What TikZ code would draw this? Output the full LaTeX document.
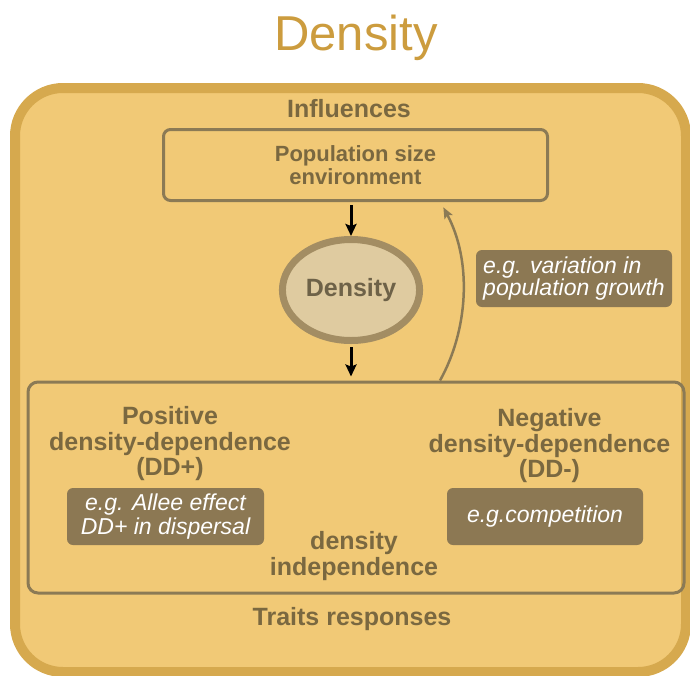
\documentclass[tikz,border=0pt]{standalone}
\usepackage{fontspec}
\setmainfont{Liberation Sans}
\usepackage{tikz}
\usetikzlibrary{shapes.geometric,arrows.meta}

\definecolor{framefill}{HTML}{F1C976}
\definecolor{frameline}{HTML}{D6A94E}
\definecolor{boxline}{HTML}{8B7A55}
\definecolor{textbrown}{HTML}{7A6840}
\definecolor{labelbrown}{HTML}{8C7853}
\definecolor{densfill}{HTML}{DFCBA0}
\definecolor{densline}{HTML}{A38D63}
\definecolor{denstext}{HTML}{6E6248}
\definecolor{titlegold}{HTML}{CC9C3E}

\begin{document}
\begin{tikzpicture}[x=1pt,y=-1pt,
  heading/.style={text=textbrown,font=\bfseries\fontsize{25}{25.5}\selectfont,align=center,inner sep=0pt},
  examplebox/.style={fill=labelbrown,rounded corners=6pt,text=white,inner sep=0pt,
    minimum width=197pt,minimum height=57pt},
  downarrow/.style={line width=3pt,-{Stealth[length=12pt,width=11pt,inset=2pt]}},
  feedback/.style={line width=2.5pt,draw=boxline,-{Stealth[length=11pt,width=9pt,inset=2pt]}}]
\useasboundingbox (0,0) rectangle (690,675);
\clip (0,0) rectangle (690,675);

\node[anchor=base,text=titlegold,font=\fontsize{49}{49}\selectfont] (title) at (356,50) {Density};

\draw[line width=10pt,draw=frameline,fill=framefill,rounded corners=48pt] (15,88) rectangle (686,672);

\node[heading,anchor=base] (influences) at (349,117) {Influences};

\node[draw=boxline,line width=3pt,rounded corners=7pt,minimum width=384pt,minimum height=71pt,
  text=textbrown,font=\bfseries\fontsize{22}{25}\selectfont,align=center] (popbox) at (355.5,165)
  {Population size\\[-2pt]environment};

\node[ellipse,draw=densline,fill=densfill,line width=7pt,minimum width=135pt,minimum height=101pt,
  text=denstext,font=\bfseries\fontsize{25}{25}\selectfont] (dens) at (351,290) {Density};

\node[draw=boxline,line width=3pt,rounded corners=10pt,minimum width=656pt,minimum height=211pt] (traitsbox) at (356,487.5) {};

\draw[downarrow,shorten <=3pt] (dens.north |- popbox.south) -- (dens.north);
\draw[downarrow,shorten <=3pt,shorten >=4pt] (dens.south) -- (dens.south |- traitsbox.north);

\draw[feedback,shorten >=6pt] ([xshift=84pt]traitsbox.north) .. controls +(28,-50) and +(32,60) .. ([xshift=85pt]popbox.south);

\node[examplebox,align=left,minimum width=196pt,font=\itshape\fontsize{23}{19}\selectfont] (growth) at (574,278.5)
  {e.g. variation in\\population growth};

\node[heading] (positive) at (170,444) {Positive\\density-dependence\\(DD+)};
\node[heading] (negative) at (549.5,446) {Negative\\density-dependence\\(DD-)};

\node[examplebox,align=center,font=\itshape\fontsize{23}{24}\selectfont] (allee) at (165.5,516.5)
  {e.g. Allee effect\\DD+ in dispersal};
\node[examplebox,align=center,minimum width=196pt,font=\itshape\fontsize{23}{24}\selectfont] (competition) at (545,516.5)
  {e.g.competition};

\node[heading] (independence) at (354,556) {density\\independence};

\node[heading,anchor=base] (traits) at (352,625) {Traits responses};
\end{tikzpicture}
\end{document}
